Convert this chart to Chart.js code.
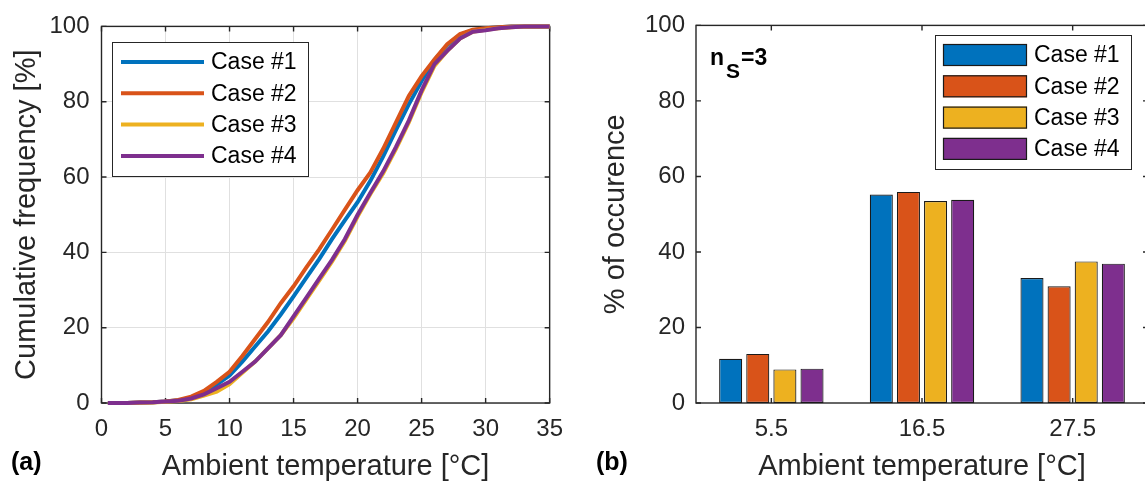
<!DOCTYPE html>
<html>
<head>
<meta charset="utf-8">
<script src="https://cdn.jsdelivr.net/npm/chart.js@4.4.1/dist/chart.umd.min.js"></script>
<style>
  html, body { margin: 0; padding: 0; background: #fff; overflow: hidden; }
  body { width: 1145px; height: 482px; position: relative; }
  #left { position: absolute; left: 0; top: 0; }
  #right { position: absolute; left: 580px; top: 0; }
</style>
</head>
<body>
<canvas id="left" width="575" height="482"></canvas>
<canvas id="right" width="600" height="482"></canvas>
<script>
"use strict";

// (a) cumulative frequency
const temps = [0.5, 1, 2, 3, 4, 5, 6, 7, 8, 9, 10, 11, 12, 13, 14, 15, 16, 17, 18, 19, 20,
  21, 22, 23, 24, 25, 26, 27, 28, 29, 30, 31, 32, 33, 34, 35];
const cdf1 = [0, 0, 0, 0.1, 0.2, 0.4, 0.7, 1.4, 2.8, 4.9, 7.3, 11, 15, 19, 23.5, 28.3, 33.3, 38.2, 43.5, 48.5, 53.3,
  59, 65.5, 72.5, 79.3, 85.5, 91, 95, 97.8, 99, 99.5, 99.8, 100, 100, 100, 100];
const cdf2 = [0, 0, 0, 0.1, 0.2, 0.4, 0.8, 1.7, 3.2, 5.6, 8.3, 12.5, 17, 21.5, 26.5, 31, 36, 40.8, 46, 51.3, 56.5,
  61.2, 67.5, 74.5, 81.5, 86.8, 91.2, 95.3, 98, 99.1, 99.5, 99.8, 100, 100, 100, 100];
const cdf3 = [0, 0, 0, 0.05, 0.1, 0.3, 0.5, 1.0, 2.0, 3.0, 5.0, 8.0, 11, 14.5, 18, 22.5, 27.5, 32.5, 37.5, 43, 49.5,
  55.5, 61, 67.5, 74.5, 82.5, 89.5, 93.5, 96.8, 98.6, 99.1, 99.5, 99.8, 100, 100, 100];
const cdf4 = [0, 0, 0, 0.1, 0.2, 0.4, 0.6, 1.2, 2.3, 3.9, 5.6, 8.3, 11, 14.5, 18, 23, 28, 33, 38, 43.5, 50,
  55.8, 61.5, 68, 75, 83, 90, 93.5, 96.8, 98.6, 99.0, 99.5, 99.8, 100, 100, 100];

// (b) % of occurence per temperature bin
const bins = ["5.5", "16.5", "27.5"];
const occ1 = [11.7, 55.2, 33.1];
const occ2 = [13.0, 55.9, 30.9];
const occ3 = [8.9, 53.5, 37.5];
const occ4 = [9.1, 53.8, 36.9];

const caseNames = ["Case #1", "Case #2", "Case #3", "Case #4"];
const colors = ["#0072BD", "#D95319", "#EDB120", "#7E2F8E"];
const xTicks = [0, 5, 10, 15, 20, 25, 30, 35];
const yTicks = [0, 20, 40, 60, 80, 100];

const ink = "#262626";
const family = "'Liberation Sans', Arial, Helvetica, sans-serif";
Chart.defaults.font.family = family;
Chart.defaults.color = ink;

// axis box with inward ticks, matlab style
const framePlugin = {
  id: "frame",
  beforeDatasetsDraw(chart) {
    const { ctx, chartArea: a, scales } = chart;
    const len = 5;
    ctx.save();
    ctx.strokeStyle = ink;
    ctx.lineWidth = 1.4;
    ctx.strokeRect(a.left, a.top, a.right - a.left, a.bottom - a.top);
    ctx.beginPath();
    scales.x.ticks.forEach((t, i) => {
      const px = scales.x.getPixelForTick(i);
      ctx.moveTo(px, a.bottom); ctx.lineTo(px, a.bottom - len);
      ctx.moveTo(px, a.top); ctx.lineTo(px, a.top + len);
    });
    scales.y.ticks.forEach((t, i) => {
      const py = scales.y.getPixelForTick(i);
      ctx.moveTo(a.left, py); ctx.lineTo(a.left + len, py);
      ctx.moveTo(a.right, py); ctx.lineTo(a.right - len, py);
    });
    ctx.stroke();
    ctx.restore();
  }
};

// legend drawn inside the plot area
const boxLegend = {
  id: "boxLegend",
  afterDraw(chart, args, opts) {
    const { ctx, chartArea: a } = chart;
    const x0 = Math.round(a.left + opts.dx), y0 = Math.round(a.top + opts.dy);
    ctx.save();
    ctx.fillStyle = "#fff";
    ctx.fillRect(x0, y0, opts.w, opts.h);
    ctx.strokeStyle = ink;
    ctx.lineWidth = 1;
    ctx.strokeRect(x0 + 0.5, y0 + 0.5, opts.w, opts.h);
    chart.data.datasets.forEach((ds, i) => {
      const cy = y0 + 20 + i * 31.3;
      if (opts.kind === "line") {
        ctx.strokeStyle = ds.borderColor;
        ctx.lineWidth = 4;
        ctx.beginPath();
        ctx.moveTo(x0 + 9, cy);
        ctx.lineTo(x0 + 92, cy);
        ctx.stroke();
      } else {
        ctx.fillStyle = ds.backgroundColor;
        ctx.fillRect(x0 + 8, cy - 11, 84, 22);
        ctx.strokeStyle = "#1a1a1a";
        ctx.lineWidth = 1.2;
        ctx.strokeRect(x0 + 8.5, cy - 10.5, 83, 21);
      }
      ctx.fillStyle = "#000";
      ctx.font = "23px " + family;
      ctx.textBaseline = "middle";
      ctx.textAlign = "left";
      ctx.fillText(ds.label, x0 + 99, cy + 1);
    });
    ctx.restore();
  }
};

// free text: panel letters, n_s
const notes = {
  id: "notes",
  afterDraw(chart, args, opts) {
    const ctx = chart.ctx;
    ctx.save();
    ctx.fillStyle = "#000";
    ctx.textAlign = "left";
    ctx.textBaseline = "alphabetic";
    opts.items.forEach(it => {
      ctx.font = it.font;
      ctx.fillText(it.text, it.x, it.y);
    });
    ctx.restore();
  }
};

const tickFont = { size: 24 };
const titleFont = { size: 29, lineHeight: 1.05 };

new Chart(document.getElementById("left"), {
  type: "line",
  data: {
    datasets: [cdf1, cdf2, cdf3, cdf4].map((vals, i) => ({
      label: caseNames[i],
      data: temps.map((t, j) => ({ x: t, y: vals[j] })),
      borderColor: colors[i],
      backgroundColor: colors[i],
      borderWidth: 4,
      pointRadius: 0,
      tension: 0,
      clip: false,
      order: 4 - i,
    })),
  },
  options: {
    responsive: false,
    animation: false,
    layout: { padding: { top: 22.5, right: 22.5, left: 0, bottom: 0 } },
    plugins: {
      legend: { display: false },
      tooltip: { enabled: false },
      boxLegend: { kind: "line", dx: 10.5, dy: 15.5, w: 196, h: 134 },
      notes: { items: [{ text: "(a)", x: 11, y: 470, font: "bold 25px " + family }] },
    },
    scales: {
      x: {
        type: "linear", min: 0, max: 35,
        afterBuildTicks: s => { s.ticks = xTicks.map(v => ({ value: v })); },
        ticks: { font: tickFont, color: ink, padding: 12, maxRotation: 0 },
        grid: { color: "#e0e0e0", drawTicks: false },
        border: { display: false },
        title: { display: true, text: "Ambient temperature [°C]", font: titleFont, color: ink, padding: 0 },
        afterFit: s => { s.height = 79; },
      },
      y: {
        min: 0, max: 100,
        afterBuildTicks: s => { s.ticks = yTicks.map(v => ({ value: v })); },
        ticks: { font: tickFont, color: ink, padding: 12 },
        grid: { color: "#e0e0e0", drawTicks: false },
        border: { display: false },
        title: { display: true, text: "Cumulative frequency [%]", font: titleFont, color: ink, padding: { top: 12, bottom: 0 } },
        afterFit: s => { s.width = 101.5; },
      },
    },
  },
  plugins: [framePlugin, boxLegend, notes],
});

new Chart(document.getElementById("right"), {
  type: "bar",
  data: {
    labels: bins,
    datasets: [occ1, occ2, occ3, occ4].map((vals, i) => ({
      label: caseNames[i],
      data: vals,
      backgroundColor: colors[i],
      borderColor: "#1a1a1a",
      borderWidth: 1.2,
      borderSkipped: false,
      categoryPercentage: 0.72,
      barPercentage: 0.85,
    })),
  },
  options: {
    responsive: false,
    animation: false,
    layout: { padding: { top: 22.5, right: 32, left: 0, bottom: 0 } },
    plugins: {
      legend: { display: false },
      tooltip: { enabled: false },
      boxLegend: { kind: "box", dx: 239, dy: 9.5, w: 196, h: 134 },
      notes: {
        items: [
          { text: "(b)", x: 16, y: 470, font: "bold 25px " + family },
          { text: "n", x: 130, y: 65, font: "bold 23px " + family },
          { text: "S", x: 146, y: 78, font: "bold 21px " + family },
          { text: "=3", x: 161, y: 65, font: "bold 23px " + family },
        ],
      },
    },
    scales: {
      x: {
        ticks: { font: tickFont, color: ink, padding: 12 },
        grid: { display: false, drawTicks: false },
        border: { display: false },
        title: { display: true, text: "Ambient temperature [°C]", font: titleFont, color: ink, padding: 0 },
        afterFit: s => { s.height = 79; },
      },
      y: {
        min: 0, max: 100,
        afterBuildTicks: s => { s.ticks = yTicks.map(v => ({ value: v })); },
        ticks: { font: tickFont, color: ink, padding: 11 },
        grid: { display: false, drawTicks: false },
        border: { display: false },
        title: { display: true, text: "% of occurence", font: titleFont, color: ink, padding: { top: 21, bottom: 0 } },
        afterFit: s => { s.width = 116; },
      },
    },
  },
  plugins: [framePlugin, boxLegend, notes],
});
</script>
</body>
</html>
